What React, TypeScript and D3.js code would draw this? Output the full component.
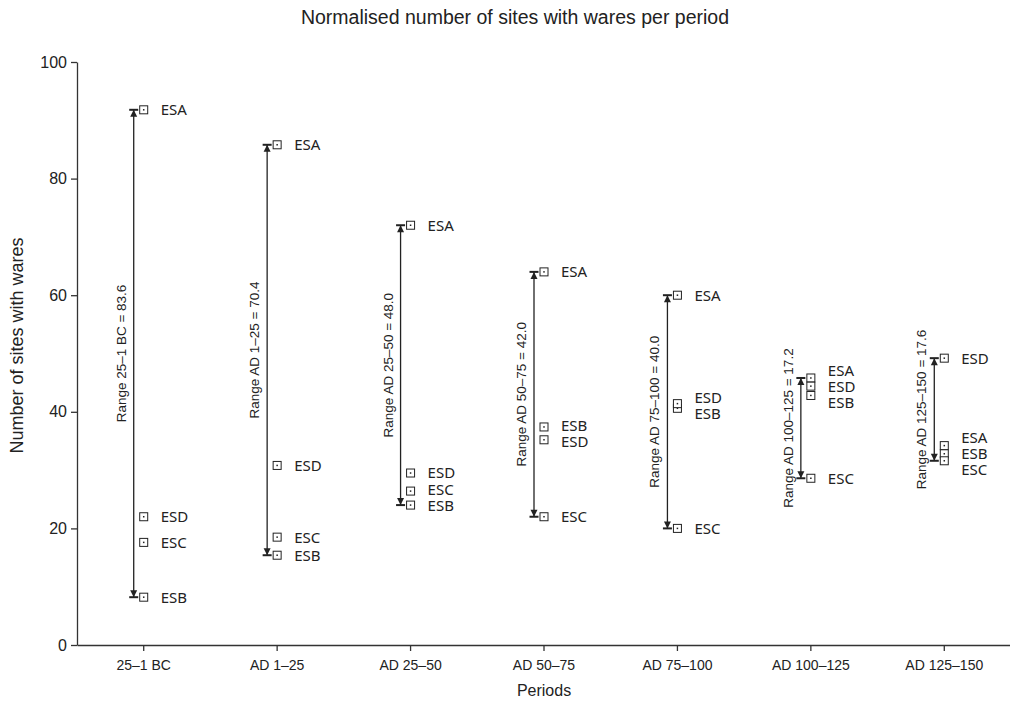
import React, { useEffect, useRef } from "react";
import * as d3 from "d3";

// periods on the x axis
const periods = ["25–1 BC", "AD 1–25", "AD 25–50", "AD 50–75", "AD 75–100", "AD 100–125", "AD 125–150"];
// normalised number of sites per ware
const wareNames = ["ESA", "ESB", "ESC", "ESD"];
const esa = [91.8, 85.8, 72.0, 64.0, 60.0, 45.8, 34.2];
const esb = [8.2, 15.4, 24.0, 37.4, 40.6, 42.8, 32.8];
const esc = [17.6, 18.5, 26.4, 22.0, 20.0, 28.6, 31.6];
const esd = [22.0, 30.8, 29.5, 35.2, 41.4, 44.4, 49.2];
const yTicks = [0, 20, 40, 60, 80, 100];

const width = 1010;
const height = 709;
const marginTop = 62;
const marginLeft = 77;
const marginBottom = 64;

const labelFont = "'Noto Sans', 'Open Sans', sans-serif";
const axisFont = "'Liberation Sans', Arial, sans-serif";

// spread labels vertically so they do not overlap, keeping each block centred
function spread(ys: number[], gap: number) {
  const order = ys.map((y, i) => i).sort((a, b) => ys[a] - ys[b]);
  let blocks = order.map((i) => ({ idx: [i], mean: ys[i] }));
  let merged = true;
  while (merged) {
    merged = false;
    for (let k = 0; k < blocks.length - 1; k++) {
      const a = blocks[k], b = blocks[k + 1];
      const aBottom = a.mean + ((a.idx.length - 1) * gap) / 2;
      const bTop = b.mean - ((b.idx.length - 1) * gap) / 2;
      if (bTop - aBottom < gap) {
        const idx = a.idx.concat(b.idx);
        const mean = d3.mean(idx, (i) => ys[i]) as number;
        blocks.splice(k, 2, { idx, mean });
        merged = true;
        break;
      }
    }
  }
  const out = ys.slice();
  blocks.forEach((b) => {
    b.idx.forEach((i, j) => {
      out[i] = b.mean + (j - (b.idx.length - 1) / 2) * gap;
    });
  });
  return out;
}

export default function App() {
  const svgRef = useRef<SVGSVGElement>(null);

  useEffect(() => {
    const svg = d3.select(svgRef.current);
    svg.selectAll("*").remove();

    const x = d3.scaleBand().domain(periods).range([marginLeft, 1011]);
    const y = d3.scaleLinear().domain([0, 100]).range([height - marginBottom, marginTop]);
    const cx = (p: string) => (x(p) as number) + x.bandwidth() / 2;

    // title
    svg.append("text")
      .attr("x", 515).attr("y", 24)
      .attr("text-anchor", "middle")
      .attr("font-family", axisFont).attr("font-size", 19.5).attr("fill", "#222")
      .text("Normalised number of sites with wares per period");

    // y axis
    const yAxis = svg.append("g")
      .attr("transform", `translate(${marginLeft},0)`)
      .call(d3.axisLeft(y).tickValues(yTicks).tickSize(6).tickSizeOuter(0).tickPadding(4));
    yAxis.selectAll("text").attr("font-family", axisFont).attr("font-size", 16).attr("fill", "#222");
    yAxis.selectAll("line,path").attr("stroke", "#333").attr("stroke-width", 1.3);

    svg.append("text")
      .attr("transform", `translate(23,${(y(0) + y(100)) / 2 - 8}) rotate(-90)`)
      .attr("text-anchor", "middle")
      .attr("font-family", axisFont).attr("font-size", 18).attr("fill", "#222")
      .text("Number of sites with wares");

    // x axis
    const xAxis = svg.append("g")
      .attr("transform", `translate(0,${y(0)})`)
      .call(d3.axisBottom(x).tickSize(6).tickSizeOuter(0).tickPadding(9));
    xAxis.selectAll("text").attr("font-family", axisFont).attr("font-size", 14).attr("fill", "#222");
    xAxis.selectAll("line,path").attr("stroke", "#333").attr("stroke-width", 1.3);

    svg.append("text")
      .attr("x", cx(periods[3])).attr("y", 696)
      .attr("text-anchor", "middle")
      .attr("font-family", axisFont).attr("font-size", 16).attr("fill", "#222")
      .text("Periods");

    const series = [esa, esb, esc, esd];

    periods.forEach((p, i) => {
      const vals = series.map((s) => s[i]);
      const hi = d3.max(vals) as number;
      const lo = d3.min(vals) as number;
      const px = cx(p);
      const ax = px - 10;
      const g = svg.append("g");

      // range arrow
      g.append("line")
        .attr("x1", ax).attr("x2", ax)
        .attr("y1", y(hi)).attr("y2", y(lo))
        .attr("stroke", "#222").attr("stroke-width", 1.3);
      [[y(hi), 1], [y(lo), -1]].forEach(([yy, dir]) => {
        g.append("path")
          .attr("d", `M${ax},${yy} L${ax - 3.5},${yy + dir * 7} L${ax + 3.5},${yy + dir * 7} Z`)
          .attr("fill", "#222");
        g.append("rect")
          .attr("x", ax - 4.5).attr("width", 9)
          .attr("y", yy - 1).attr("height", 2)
          .attr("fill", "#222");
      });

      // range label
      g.append("text")
        .attr("transform", `translate(${ax - 8},${(y(hi) + y(lo)) / 2}) rotate(-90)`)
        .attr("text-anchor", "middle")
        .attr("font-family", axisFont).attr("font-size", 13.5).attr("fill", "#222")
        .text(`Range ${p} = ${(hi - lo).toFixed(1)}`);

      // markers
      vals.forEach((v) => {
        g.append("rect")
          .attr("x", px - 4).attr("y", y(v) - 4)
          .attr("width", 8).attr("height", 8)
          .attr("fill", "white").attr("stroke", "#222").attr("stroke-width", 1);
        g.append("rect")
          .attr("x", px - 0.75).attr("y", y(v) - 0.75)
          .attr("width", 1.5).attr("height", 1.5)
          .attr("fill", "#222");
      });

      // ware labels
      const ly = spread(vals.map((v) => y(v)), 16);
      wareNames.forEach((name, k) => {
        g.append("text")
          .attr("x", px + 17).attr("y", ly[k])
          .attr("dy", "0.36em")
          .attr("font-family", labelFont).attr("font-size", 15).attr("fill", "#222")
          .text(name);
      });
    });
  }, []);

  return (
    <svg
      ref={svgRef}
      width={width}
      height={height}
      style={{ position: "absolute", left: 0, top: 0, background: "white" }}
    />
  );
}
